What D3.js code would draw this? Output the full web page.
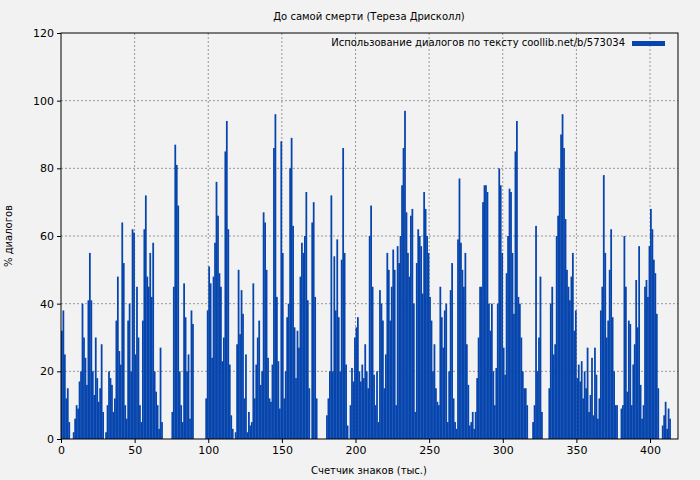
<!DOCTYPE html>
<html><head><meta charset="utf-8">
<script src="https://cdn.jsdelivr.net/npm/d3@7"></script>
<style>
body{margin:0;background:#f2f2f2;font-family:"DejaVu Sans",sans-serif;}
</style></head>
<body><svg id="chart" width="700" height="480"></svg>
<script>
// % of dialogue per 1000 characters
var values = [
  32,38,25,12,15,5,0,0,2,6,
  10,9,17,20,40,30,24,16,41,55,
  41,20,13,30,18,11,15,28,8,0,
  2,10,20,18,16,8,12,35,48,26,
  22,64,52,10,6,35,40,20,62,61,
  25,45,30,10,5,35,62,72,48,45,
  55,42,58,20,14,10,3,27,5,0,
  0,0,0,0,0,8,45,87,81,69,
  20,10,5,46,36,20,25,6,38,34,
  0,0,0,0,0,0,0,0,12,38,
  51,46,24,48,58,76,66,49,45,23,
  30,85,94,62,22,7,3,0,2,28,
  50,31,44,37,12,25,2,8,4,5,
  46,12,22,30,35,16,20,67,64,50,
  24,12,11,22,86,96,42,23,9,88,
  55,12,20,36,40,80,89,63,33,18,
  32,27,48,58,55,60,73,41,15,0,
  64,70,42,12,0,0,0,0,0,0,
  7,12,20,72,20,54,38,59,36,20,
  53,86,55,22,4,0,10,21,17,30,
  33,36,20,17,22,18,28,20,15,60,
  69,45,19,10,20,5,44,40,35,15,
  25,55,50,35,45,56,50,10,57,52,
  60,75,86,97,67,55,48,66,68,40,
  8,52,62,60,57,43,73,68,60,55,
  42,35,20,28,15,11,10,45,36,27,
  38,40,5,20,44,52,12,5,3,59,
  77,58,50,45,55,28,16,4,5,8,
  3,8,18,30,45,45,70,75,75,73,
  40,32,40,20,10,21,40,80,75,55,
  27,19,49,60,74,73,55,37,85,94,
  42,40,30,20,15,15,10,0,0,0,
  5,10,63,20,30,48,8,0,0,0,
  0,15,40,45,25,28,60,66,80,90,
  96,86,65,50,45,41,48,55,32,38,
  18,22,17,23,12,20,15,27,8,13,
  24,7,27,19,6,12,38,45,78,55,
  30,35,50,62,36,20,10,10,0,0,
  9,10,60,45,14,35,34,10,22,28,
  47,33,57,16,6,10,45,47,42,57,
  68,62,53,49,37,15,0,0,4,7,
  11,3,9,6,0
];
var xTicks = [0, 50, 100, 150, 200, 250, 300, 350, 400];
var yTicks = [0, 20, 40, 60, 80, 100, 120];
var title = "До самой смерти (Тереза Дрисколл)";
var legendLabel = "Использование диалогов по тексту coollib.net/b/573034";
var xLabel = "Счетчик знаков (тыс.)";
var yLabel = "% диалогов";

var svg = d3.select("#chart");
var m = {left: 61, right: 22, top: 33, bottom: 41};
var W = 700 - m.left - m.right, H = 480 - m.top - m.bottom;
var color = "#0645ad";

var x = d3.scaleLinear().domain([0, 419]).range([0, W]);
var y = d3.scaleLinear().domain([0, 120]).range([H, 0]);
var g = svg.append("g").attr("transform", "translate(" + m.left + "," + m.top + ")");

// grid
g.selectAll("line.gx").data(xTicks.slice(1)).enter().append("line")
  .attr("x1", d => x(d)).attr("x2", d => x(d)).attr("y1", 0).attr("y2", H)
  .attr("stroke", "#999").attr("stroke-dasharray", "2,2");
g.selectAll("line.gy").data(yTicks.slice(1, -1)).enter().append("line")
  .attr("y1", d => y(d)).attr("y2", d => y(d)).attr("x1", 0).attr("x2", W)
  .attr("stroke", "#999").attr("stroke-dasharray", "2,2");

// bars
g.selectAll("rect.bar").data(values).enter().append("rect")
  .attr("x", (d, i) => x(i))
  .attr("width", x(1) - x(0) + 0.3)
  .attr("y", d => y(d))
  .attr("height", d => H - y(d))
  .attr("fill", color);

// frame
g.append("rect").attr("width", W).attr("height", H).attr("fill", "none").attr("stroke", "#000");

var xa = g.append("g").attr("transform", "translate(0," + H + ")")
  .call(d3.axisBottom(x).tickValues(xTicks).tickSize(4).tickSizeOuter(0));
var ya = g.append("g").call(d3.axisLeft(y).tickValues(yTicks).tickSize(4).tickSizeOuter(0));
[xa, ya].forEach(a => {
  a.select(".domain").remove();
  a.selectAll("text").attr("font-size", 11).attr("font-family", "DejaVu Sans");
});

svg.append("text").attr("x", 369).attr("y", 20).attr("text-anchor", "middle")
  .attr("font-size", 10).text(title);
svg.append("text").attr("x", 369).attr("y", 474).attr("text-anchor", "middle")
  .attr("font-size", 10).text(xLabel);
svg.append("text").attr("transform", "translate(12," + (m.top + H / 2) + ") rotate(-90)")
  .attr("text-anchor", "middle").attr("font-size", 10).text(yLabel);

// legend
svg.append("text").attr("x", 625).attr("y", 46).attr("text-anchor", "end")
  .attr("font-size", 10).text(legendLabel);
svg.append("rect").attr("x", 632).attr("y", 41).attr("width", 33).attr("height", 5).attr("fill", color);
</script>
</body></html>
